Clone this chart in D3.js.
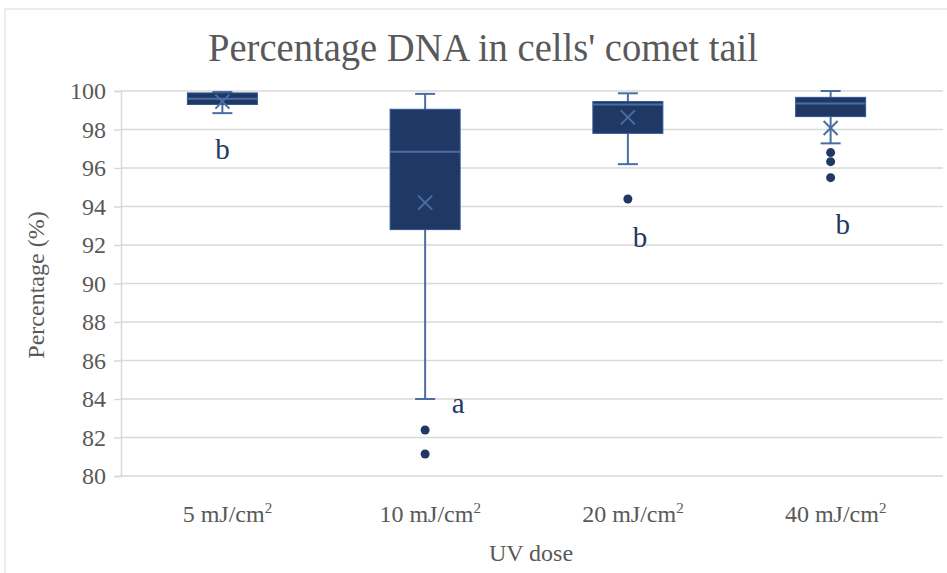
<!DOCTYPE html>
<html>
<head>
<meta charset="utf-8">
<script src="https://cdn.jsdelivr.net/npm/d3@7"></script>
<style>
  body { margin: 0; background: #fff; }
  text { font-family: "Liberation Serif", "DejaVu Serif", serif; }
</style>
</head>
<body>
<svg id="chart"></svg>
<script>
var width = 947;
var height = 573;

// data
var doses = ["5", "10", "20", "40"];
var whiskerLow = [98.85, 84.0, 96.2, 97.28];
var q1 = [99.3, 92.8, 97.8, 98.67];
var median = [99.6, 96.85, 99.3, 99.35];
var q3 = [99.9, 99.05, 99.45, 99.67];
var whiskerHigh = [99.95, 99.85, 99.88, 100.0];
var means = [99.45, 94.2, 98.63, 98.08];
var outliers = [[], [82.39, 81.14], [94.39], [96.8, 96.33, 95.5]];
var letters = ["b", "a", "b", "b"];
var letterAt = [96.9, 83.7, 92.3, 93.0];
var yTicks = [80, 82, 84, 86, 88, 90, 92, 94, 96, 98, 100];

var boxFill = "#1f3864";
var lineCol = "#4a6ea3";
var textCol = "#595959";

var svg = d3.select('#chart')
    .attr('width', width)
    .attr('height', height);

// chart frame
svg.append('rect')
    .attr('x', 5).attr('y', 9)
    .attr('width', 960).attr('height', 580)
    .attr('fill', 'none')
    .attr('stroke', '#d9d9d9');

var x = d3.scaleBand().domain(doses).range([121, 932]);
var y = d3.scaleLinear().domain([80, 100]).range([476, 91]);

// gridlines
svg.append('g').selectAll('line')
    .data(yTicks).enter().append('line')
    .attr('x1', 121).attr('x2', 943)
    .attr('y1', function(d){ return y(d); })
    .attr('y2', function(d){ return y(d); })
    .attr('stroke', '#d9d9d9').attr('stroke-width', 1.5);

// y axis
var yAxis = svg.append('g')
    .attr('transform', 'translate(121,0)')
    .call(d3.axisLeft(y).tickValues(yTicks).tickSize(7).tickPadding(8));
yAxis.select('.domain').attr('stroke', '#d9d9d9').attr('stroke-width', 1.5);
yAxis.selectAll('.tick line').attr('stroke', '#d9d9d9').attr('stroke-width', 1.5);
yAxis.selectAll('text')
    .attr('fill', textCol)
    .style('font-size', '24px')
    .style('font-family', '"Liberation Serif", serif');

// x labels with superscript
doses.forEach(function(d){
    var t = svg.append('text')
        .attr('x', x(d) + x.bandwidth() / 2 + 5)
        .attr('y', 522)
        .attr('text-anchor', 'middle')
        .attr('fill', textCol)
        .style('font-size', '24px');
    t.append('tspan').text(d + ' mJ/cm');
    t.append('tspan').attr('dy', -9).style('font-size', '15px').text('2');
});

var cw = 70;
doses.forEach(function(d, i){
    var cx = x(d) + x.bandwidth() / 2;
    var g = svg.append('g');
    // whiskers
    g.append('line')
        .attr('x1', cx).attr('x2', cx)
        .attr('y1', y(whiskerHigh[i])).attr('y2', y(q3[i]))
        .attr('stroke', lineCol).attr('stroke-width', 2);
    g.append('line')
        .attr('x1', cx).attr('x2', cx)
        .attr('y1', y(q1[i])).attr('y2', y(whiskerLow[i]))
        .attr('stroke', lineCol).attr('stroke-width', 2);
    [whiskerHigh[i], whiskerLow[i]].forEach(function(v){
        g.append('line')
            .attr('x1', cx - 10).attr('x2', cx + 10)
            .attr('y1', y(v)).attr('y2', y(v))
            .attr('stroke', lineCol).attr('stroke-width', 2);
    });
    // box
    g.append('rect')
        .attr('x', cx - cw / 2).attr('width', cw)
        .attr('y', y(q3[i])).attr('height', y(q1[i]) - y(q3[i]))
        .attr('fill', boxFill)
        .attr('stroke', '#2f5597').attr('stroke-width', 1);
    g.append('line')
        .attr('x1', cx - cw / 2).attr('x2', cx + cw / 2)
        .attr('y1', y(median[i])).attr('y2', y(median[i]))
        .attr('stroke', lineCol).attr('stroke-width', 2);
    // mean marker
    var my = y(means[i]);
    g.append('path')
        .attr('d', 'M' + (cx - 7) + ',' + (my - 7) + 'L' + (cx + 7) + ',' + (my + 7) +
                   'M' + (cx - 7) + ',' + (my + 7) + 'L' + (cx + 7) + ',' + (my - 7))
        .attr('stroke', lineCol).attr('stroke-width', 2);
    // outliers
    g.selectAll('circle')
        .data(outliers[i]).enter().append('circle')
        .attr('cx', cx).attr('cy', function(v){ return y(v); })
        .attr('r', 4.5).attr('fill', boxFill);
    // significance letters
    svg.append('text')
        .attr('x', cx + (i === 1 ? 33 : (i === 0 ? 0 : 12)))
        .attr('y', y(letterAt[i]) + 8)
        .attr('text-anchor', 'middle')
        .attr('fill', boxFill)
        .style('font-size', '29px')
        .text(letters[i]);
});

// title
svg.append('text')
    .attr('x', 483).attr('y', 61)
    .attr('text-anchor', 'middle')
    .attr('fill', textCol)
    .attr('textLength', 550).attr('lengthAdjust', 'spacingAndGlyphs')
    .style('font-size', '41px')
    .text("Percentage DNA in cells' comet tail");

// axis titles
svg.append('text')
    .attr('transform', 'translate(44,285) rotate(-90)')
    .attr('text-anchor', 'middle')
    .attr('fill', textCol)
    .style('font-size', '24px')
    .text('Percentage (%)');

svg.append('text')
    .attr('x', 531).attr('y', 561)
    .attr('text-anchor', 'middle')
    .attr('fill', textCol)
    .style('font-size', '24px')
    .text('UV dose');
</script>
</body>
</html>
